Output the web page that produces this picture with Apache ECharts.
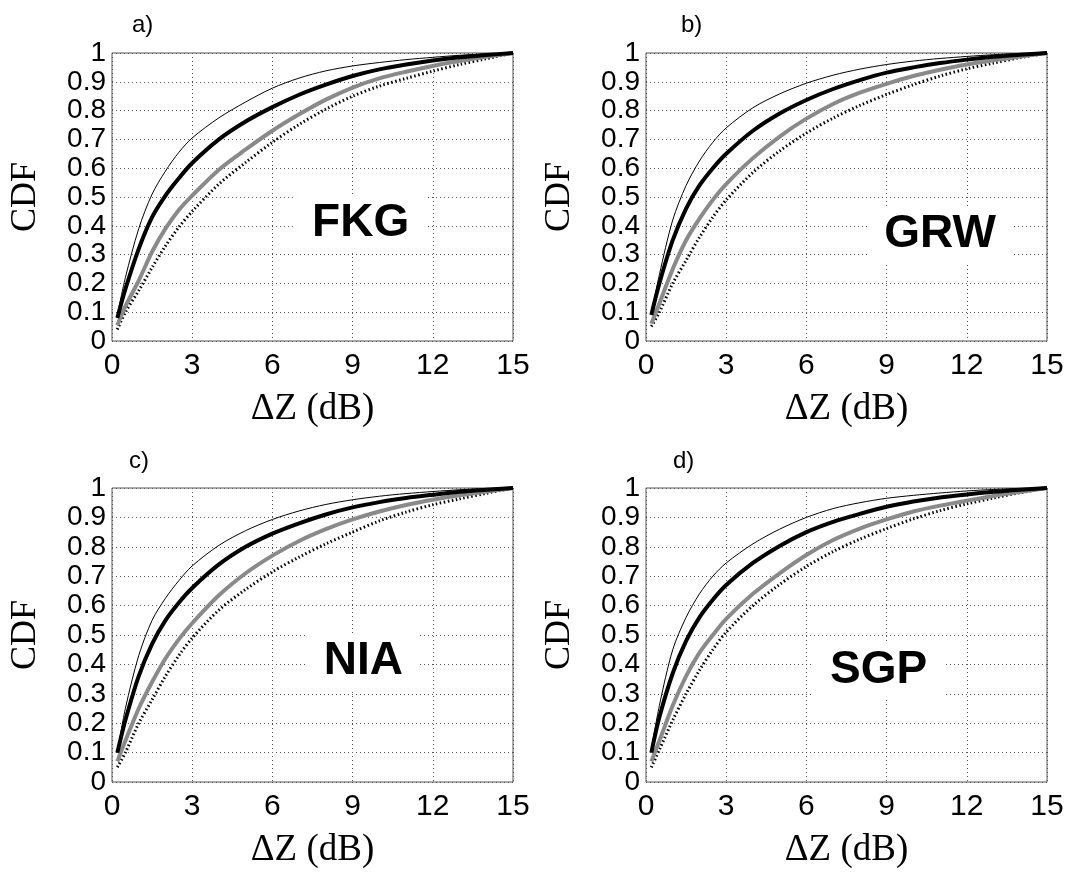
<!DOCTYPE html>
<html>
<head>
<meta charset="utf-8">
<script src="https://cdn.jsdelivr.net/npm/echarts@6/dist/echarts.min.js"></script>
<style>
  html, body { margin: 0; padding: 0; background: #fff; }
  #chart { width: 1068px; height: 877px; }
</style>
</head>
<body>
<div id="chart"></div>
<script>
var xs = [0.2, 0.5, 1, 1.5, 2, 2.5, 3, 4, 5, 6, 7, 8, 9, 10, 11, 12, 13, 14, 15];

// a) FKG
var fkgThin   = [0.09, 0.22, 0.39, 0.51, 0.59, 0.655, 0.705, 0.775, 0.83, 0.878, 0.913, 0.938, 0.955, 0.967, 0.977, 0.985, 0.992, 0.997, 1];
var fkgThick  = [0.08, 0.18, 0.32, 0.43, 0.505, 0.565, 0.618, 0.7, 0.762, 0.812, 0.855, 0.89, 0.92, 0.943, 0.96, 0.974, 0.985, 0.993, 1];
var fkgGray   = [0.055, 0.12, 0.21, 0.31, 0.39, 0.455, 0.505, 0.595, 0.665, 0.73, 0.787, 0.838, 0.88, 0.912, 0.935, 0.955, 0.972, 0.987, 1];
var fkgDotted = [0.04, 0.1, 0.175, 0.255, 0.33, 0.395, 0.45, 0.545, 0.62, 0.69, 0.752, 0.805, 0.85, 0.885, 0.912, 0.937, 0.96, 0.98, 1];

// b) GRW
var grwThin   = [0.09, 0.23, 0.42, 0.54, 0.625, 0.69, 0.74, 0.81, 0.858, 0.895, 0.923, 0.944, 0.96, 0.972, 0.981, 0.988, 0.994, 0.998, 1];
var grwThick  = [0.09, 0.2, 0.35, 0.46, 0.54, 0.60, 0.65, 0.73, 0.79, 0.837, 0.875, 0.906, 0.932, 0.95, 0.965, 0.977, 0.987, 0.994, 1];
var grwGray   = [0.06, 0.13, 0.25, 0.35, 0.425, 0.49, 0.545, 0.635, 0.71, 0.772, 0.823, 0.862, 0.893, 0.92, 0.942, 0.96, 0.975, 0.988, 1];
var grwDotted = [0.05, 0.1, 0.2, 0.28, 0.36, 0.43, 0.49, 0.585, 0.66, 0.722, 0.774, 0.818, 0.856, 0.89, 0.92, 0.945, 0.965, 0.984, 1];

// c) NIA
var niaThin   = [0.10, 0.25, 0.43, 0.55, 0.625, 0.685, 0.735, 0.805, 0.855, 0.893, 0.922, 0.944, 0.96, 0.972, 0.981, 0.988, 0.994, 0.998, 1];
var niaThick  = [0.10, 0.21, 0.36, 0.47, 0.55, 0.61, 0.66, 0.74, 0.8, 0.845, 0.88, 0.91, 0.934, 0.952, 0.966, 0.977, 0.987, 0.994, 1];
var niaGray   = [0.07, 0.14, 0.25, 0.34, 0.42, 0.485, 0.54, 0.635, 0.71, 0.77, 0.82, 0.86, 0.893, 0.92, 0.942, 0.96, 0.975, 0.988, 1];
var niaDotted = [0.05, 0.1, 0.2, 0.28, 0.36, 0.43, 0.49, 0.585, 0.655, 0.715, 0.765, 0.81, 0.85, 0.888, 0.918, 0.943, 0.963, 0.982, 1];

// d) SGP
var sgpThin   = [0.11, 0.26, 0.45, 0.56, 0.64, 0.70, 0.745, 0.81, 0.86, 0.90, 0.93, 0.95, 0.965, 0.975, 0.983, 0.99, 0.995, 0.998, 1];
var sgpThick  = [0.10, 0.22, 0.37, 0.48, 0.56, 0.62, 0.67, 0.745, 0.803, 0.85, 0.885, 0.912, 0.936, 0.954, 0.968, 0.978, 0.987, 0.994, 1];
var sgpGray   = [0.07, 0.14, 0.26, 0.36, 0.44, 0.5, 0.555, 0.64, 0.71, 0.772, 0.823, 0.862, 0.893, 0.92, 0.94, 0.957, 0.973, 0.987, 1];
var sgpDotted = [0.05, 0.11, 0.21, 0.3, 0.38, 0.45, 0.51, 0.6, 0.672, 0.733, 0.784, 0.826, 0.862, 0.895, 0.923, 0.946, 0.966, 0.984, 1];

var panelTags  = ['a)', 'b)', 'c)', 'd)'];
var panelNames = ['FKG', 'GRW', 'NIA', 'SGP'];
var namePos    = [[9.3, 0.41], [11.0, 0.37], [9.4, 0.41], [8.7, 0.38]];
var panelData  = [
    [fkgThin, fkgThick, fkgGray, fkgDotted],
    [grwThin, grwThick, grwGray, grwDotted],
    [niaThin, niaThick, niaGray, niaDotted],
    [sgpThin, sgpThick, sgpGray, sgpDotted]
];

var sans = 'Liberation Sans';
var serif = 'Liberation Serif';

// plot boxes
var boxes = [
    { left: 112, top: 53,  width: 401, height: 288 },
    { left: 646, top: 53,  width: 401, height: 288 },
    { left: 112, top: 488, width: 401, height: 294 },
    { left: 646, top: 488, width: 401, height: 294 }
];
var tagPos = [[127, 8], [676, 8], [124, 444], [668, 444]];

// line looks: thin black, thick black, thick gray, dotted black
var looks = [
    { color: '#000', width: 1, type: 'solid', z: 5 },
    { color: '#000', width: 4, type: 'solid', z: 4 },
    { color: '#8a8a8a', width: 4, type: 'solid', z: 3 },
    { color: '#000', width: 3, type: [1.5, 2.5], z: 2 }
];

function pairs(ys) {
    return xs.map(function (x, i) { return [x, ys[i]]; });
}

var grids = [], xAxes = [], yAxes = [], series = [], titles = [];

boxes.forEach(function (b, p) {
    grids.push({ left: b.left, top: b.top, width: b.width, height: b.height,
        show: true, borderColor: '#555', borderWidth: 1, backgroundColor: '#fff' });
    titles.push({ text: panelTags[p], left: tagPos[p][0], top: tagPos[p][1],
        textStyle: { fontFamily: sans, fontSize: 24, fontWeight: 'normal', color: '#000' } });
    xAxes.push({
        gridIndex: p, type: 'value', min: 0, max: 15, interval: 3,
        name: 'ΔZ (dB)', nameLocation: 'middle', nameGap: 50,
        nameTextStyle: { fontFamily: serif, fontSize: 37, color: '#000' },
        axisLine: { show: false },
        axisTick: { show: false },
        axisLabel: { fontFamily: sans, fontSize: 30, color: '#000', margin: 10,
            showMinLabel: true, showMaxLabel: true },
        splitLine: { show: true, lineStyle: { color: '#555', width: 1, type: [1, 3] } }
    });
    yAxes.push({
        gridIndex: p, type: 'value', min: 0, max: 1, interval: 0.1,
        name: 'CDF', nameLocation: 'middle', nameGap: 68, nameRotate: 90,
        nameTextStyle: { fontFamily: serif, fontSize: 36, color: '#000' },
        axisLine: { show: false },
        axisTick: { show: false },
        axisLabel: { fontFamily: sans, fontSize: 28, color: '#000', margin: 6,
            lineHeight: 20, showMinLabel: true, showMaxLabel: true },
        splitLine: { show: true, lineStyle: { color: '#555', width: 1, type: [1, 3] } }
    });
    panelData[p].forEach(function (ys, k) {
        var lk = looks[k];
        series.push({
            type: 'line', xAxisIndex: p, yAxisIndex: p,
            data: pairs(ys), smooth: 0.3,
            showSymbol: false, symbol: 'none',
            z: lk.z, silent: true,
            lineStyle: { color: lk.color, width: lk.width, type: lk.type }
        });
    });
    // station name, with a white box over the grid like the original
    series.push({
        type: 'scatter', xAxisIndex: p, yAxisIndex: p,
        data: [namePos[p]], symbolSize: 0, z: 6, silent: true,
        itemStyle: { opacity: 1 },
        label: {
            show: true, position: 'inside', formatter: panelNames[p],
            fontFamily: sans, fontSize: 46, fontWeight: 'bold', color: '#000',
            backgroundColor: '#fff', padding: [6, 16, 4, 16]
        }
    });
});

var myChart = echarts.init(document.getElementById('chart'));
myChart.setOption({
    animation: false,
    backgroundColor: '#fff',
    title: titles,
    grid: grids,
    xAxis: xAxes,
    yAxis: yAxes,
    series: series
});
</script>
</body>
</html>
